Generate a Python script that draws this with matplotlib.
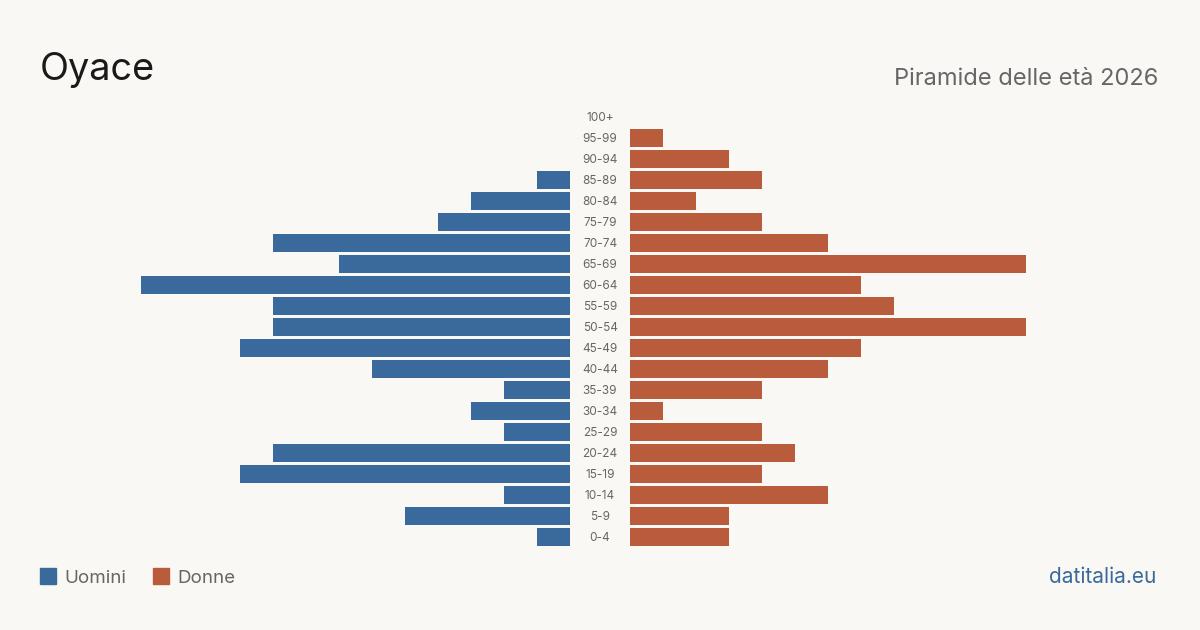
import matplotlib
matplotlib.use("Agg")
import matplotlib.pyplot as plt

plt.rcParams["font.family"] = ["Inter", "DejaVu Sans"]

BG = "#f9f8f4"
C_MEN = "#3a6a9b"
C_WOMEN = "#b95c3c"

age_groups = ["0-4", "5-9", "10-14", "15-19", "20-24", "25-29", "30-34",
              "35-39", "40-44", "45-49", "50-54", "55-59", "60-64", "65-69",
              "70-74", "75-79", "80-84", "85-89", "90-94", "95-99", "100+"]
men = [1, 5, 2, 10, 9, 2, 3, 2, 6, 10, 9, 9, 13, 7, 9, 4, 3, 1, 0, 0, 0]
women = [3, 3, 6, 4, 5, 4, 1, 4, 6, 7, 12, 8, 7, 12, 6, 4, 2, 4, 3, 1, 0]

W, H = 1200, 630
fig = plt.figure(figsize=(W / 100, H / 100), dpi=100, facecolor=BG)

unit_px = 33.0
ax_w = 530
top, bottom = 106.5, 547.5
y = list(range(len(age_groups)))

axl = fig.add_axes([40 / W, 1 - bottom / H, ax_w / W, (bottom - top) / H])
axr = fig.add_axes([630 / W, 1 - bottom / H, ax_w / W, (bottom - top) / H])
axl.barh(y, men, height=0.81, color=C_MEN)
axr.barh(y, women, height=0.81, color=C_WOMEN)
axl.set_xlim(ax_w / unit_px, 0)
axr.set_xlim(0, ax_w / unit_px)
for ax in (axl, axr):
    ax.set_ylim(-0.5, len(age_groups) - 0.5)
    ax.axis("off")

for i, lab in enumerate(age_groups):
    axr.text(-30 / unit_px, i - 0.05, lab, ha="center", va="center",
             fontsize=8.5, color="#666666")

fig.text(40 / W, 1 - 80 / H, "Oyace", fontsize=27.3, color="#1a1a1a",
         ha="left", va="baseline")
fig.text(1158 / W, 1 - 85 / H, "Piramide delle età 2026", fontsize=17,
         color="#666666", ha="right", va="baseline")

# legend
fig.patches.append(plt.Rectangle((40 / W, 1 - 584 / H), 16 / W, 16 / H,
                                 transform=fig.transFigure, color=C_MEN))
fig.text(64 / W, 1 - 583 / H, "Uomini", fontsize=13.5, color="#666666",
         ha="left", va="baseline")
fig.patches.append(plt.Rectangle((153 / W, 1 - 584 / H), 16 / W, 16 / H,
                                 transform=fig.transFigure, color=C_WOMEN))
fig.text(177 / W, 1 - 583 / H, "Donne", fontsize=13.5, color="#666666",
         ha="left", va="baseline")
fig.text(1156 / W, 1 - 583 / H, "datitalia.eu", fontsize=15, color=C_MEN,
         ha="right", va="baseline")

fig.savefig("out.png", dpi=100, facecolor=BG)
